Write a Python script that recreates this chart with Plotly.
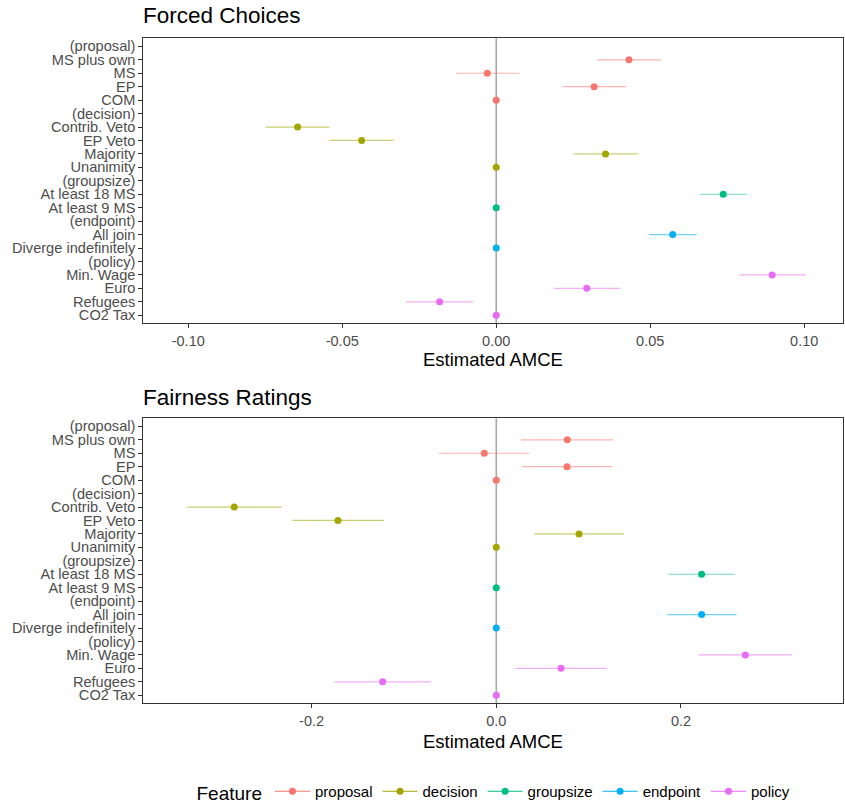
import plotly.graph_objects as go

# ---- data ----
levels = ["(proposal)", "MS plus own", "MS", "EP", "COM",
          "(decision)", "Contrib. Veto", "EP Veto", "Majority", "Unanimity",
          "(groupsize)", "At least 18 MS", "At least 9 MS",
          "(endpoint)", "All join", "Diverge indefinitely",
          "(policy)", "Min. Wage", "Euro", "Refugees", "CO2 Tax"]

features = ["proposal", "decision", "groupsize", "endpoint", "policy"]
colors = ["#F8766D", "#A3A500", "#00BF7D", "#00B0F6", "#E76BF3"]

feat_levels = {
    "proposal": ["MS plus own", "MS", "EP", "COM"],
    "decision": ["Contrib. Veto", "EP Veto", "Majority", "Unanimity"],
    "groupsize": ["At least 18 MS", "At least 9 MS"],
    "endpoint": ["All join", "Diverge indefinitely"],
    "policy": ["Min. Wage", "Euro", "Refugees", "CO2 Tax"],
}

# Forced choices: estimate, lower, upper
fc_est = {
    "proposal": [0.0431, -0.0029, 0.0318, 0.0],
    "decision": [-0.0645, -0.0437, 0.0355, 0.0],
    "groupsize": [0.0737, 0.0],
    "endpoint": [0.0573, 0.0],
    "policy": [0.0896, 0.0294, -0.0184, 0.0],
}
fc_low = {
    "proposal": [0.0328, -0.0131, 0.0217, 0.0],
    "decision": [-0.0749, -0.0541, 0.0251, 0.0],
    "groupsize": [0.0662, 0.0],
    "endpoint": [0.0496, 0.0],
    "policy": [0.0789, 0.0187, -0.0293, 0.0],
}
fc_high = {
    "proposal": [0.0535, 0.0075, 0.0421, 0.0],
    "decision": [-0.0541, -0.0333, 0.0459, 0.0],
    "groupsize": [0.0813, 0.0],
    "endpoint": [0.0651, 0.0],
    "policy": [0.1005, 0.0402, -0.0075, 0.0],
}

# Fairness ratings
fr_est = {
    "proposal": [0.0769, -0.0130, 0.0766, 0.0],
    "decision": [-0.2838, -0.1715, 0.0896, 0.0],
    "groupsize": [0.2224, 0.0],
    "endpoint": [0.2224, 0.0],
    "policy": [0.2697, 0.0701, -0.1231, 0.0],
}
fr_low = {
    "proposal": [0.0268, -0.0621, 0.0278, 0.0],
    "decision": [-0.3347, -0.2209, 0.0408, 0.0],
    "groupsize": [0.1863, 0.0],
    "endpoint": [0.1849, 0.0],
    "policy": [0.2188, 0.0206, -0.1751, 0.0],
}
fr_high = {
    "proposal": [0.1267, 0.0357, 0.1253, 0.0],
    "decision": [-0.2325, -0.1216, 0.1386, 0.0],
    "groupsize": [0.2582, 0.0],
    "endpoint": [0.2604, 0.0],
    "policy": [0.3203, 0.1195, -0.0711, 0.0],
}

top_ticks = [-0.10, -0.05, 0.00, 0.05, 0.10]
top_ticklabels = ["-0.10", "-0.05", "0.00", "0.05", "0.10"]
bot_ticks = [-0.2, 0.0, 0.2]
bot_ticklabels = ["-0.2", "0.0", "0.2"]

W, H = 845, 810
FONT = "Liberation Sans, Arial, sans-serif"


def rgba(hexc, a):
    h = hexc.lstrip("#")
    r, g, b = int(h[0:2], 16), int(h[2:4], 16), int(h[4:6], 16)
    return f"rgba({r},{g},{b},{a})"


fig = go.Figure()

panels = [
    ("x", "y", fc_est, fc_low, fc_high),
    ("x2", "y2", fr_est, fr_low, fr_high),
]

for xa, ya, est, low, high in panels:
    for f, c in zip(features, colors):
        e = est[f]
        lo = low[f]
        hi = high[f]
        fig.add_trace(go.Scatter(
            x=e, y=feat_levels[f], mode="markers",
            marker=dict(color=c, size=7),
            error_x=dict(type="data", symmetric=False,
                         array=[h - v for h, v in zip(hi, e)],
                         arrayminus=[v - l for v, l in zip(e, lo)],
                         color=rgba(c, 0.55), thickness=1.2, width=0),
            xaxis=xa, yaxis=ya, showlegend=False, name=f,
        ))

# legend entries
for f, c in zip(features, colors):
    fig.add_trace(go.Scatter(
        x=[None], y=[None], mode="lines+markers", name=f,
        marker=dict(color=c, size=7), line=dict(color=c, width=1.2),
        xaxis="x", yaxis="y", showlegend=True,
    ))

xdom = [143.3 / W, 843 / W]
ydom_top = [(H - 323.3) / H, (H - 38.3) / H]
ydom_bot = [(H - 703.3) / H, (H - 418.3) / H]

axis_common = dict(
    showgrid=False, zeroline=False, showline=True, mirror=True,
    linecolor="#333333", linewidth=1, ticks="outside", ticklen=4,
    tickcolor="#333333", tickwidth=1, automargin=False,
    tickfont=dict(family=FONT, size=14.5, color="#4d4d4d"),
)

ycommon = dict(axis_common, type="category", categoryorder="array",
               categoryarray=levels, range=[len(levels) - 0.4, -0.6],
               tickmode="array", tickvals=levels, ticktext=levels,
               tickfont=dict(family=FONT, size=14.6, color="#4d4d4d"))

fig.update_layout(
    width=W, height=H,
    margin=dict(l=0, r=0, t=0, b=0),
    paper_bgcolor="white", plot_bgcolor="white",
    font=dict(family=FONT),
    xaxis=dict(axis_common, domain=xdom, anchor="y",
               range=[-0.1146, 0.1126], tickvals=top_ticks,
               ticktext=top_ticklabels),
    yaxis=dict(ycommon, domain=ydom_top, anchor="x"),
    xaxis2=dict(axis_common, domain=xdom, anchor="y2",
                range=[-0.3823, 0.3755], tickvals=bot_ticks,
                ticktext=bot_ticklabels),
    yaxis2=dict(ycommon, domain=ydom_bot, anchor="x2"),
    legend=dict(orientation="h", x=495 / W, xanchor="center",
                y=0.0, yanchor="bottom",
                title=dict(text="Feature", side="left",
                           font=dict(family=FONT, size=19, color="#000")),
                font=dict(family=FONT, size=15, color="#000"),
                itemwidth=35, traceorder="normal"),
    shapes=[
        dict(type="line", xref="x", yref="y domain", x0=0, x1=0, y0=0, y1=1,
             line=dict(color="#a8a8a8", width=1.6), layer="below"),
        dict(type="line", xref="x2", yref="y2 domain", x0=0, x1=0, y0=0, y1=1,
             line=dict(color="#a8a8a8", width=1.6), layer="below"),
    ],
    annotations=[
        dict(text="Forced Choices", xref="paper", yref="paper",
             x=141 / W, y=(H - 15.5) / H, xanchor="left", yanchor="middle",
             showarrow=False, font=dict(family=FONT, size=22.5, color="#000")),
        dict(text="Fairness Ratings", xref="paper", yref="paper",
             x=141 / W, y=(H - 397.5) / H, xanchor="left", yanchor="middle",
             showarrow=False, font=dict(family=FONT, size=22.5, color="#000")),
        dict(text="Estimated AMCE", xref="x domain", yref="paper",
             x=0.5, y=(H - 359.5) / H, xanchor="center", yanchor="middle",
             showarrow=False, font=dict(family=FONT, size=18.5, color="#000")),
        dict(text="Estimated AMCE", xref="x2 domain", yref="paper",
             x=0.5, y=(H - 741) / H, xanchor="center", yanchor="middle",
             showarrow=False, font=dict(family=FONT, size=18.5, color="#000")),
    ],
)

fig.write_html("out.html", config={"displayModeBar": False},
               post_script="document.body.style.margin='0';")
